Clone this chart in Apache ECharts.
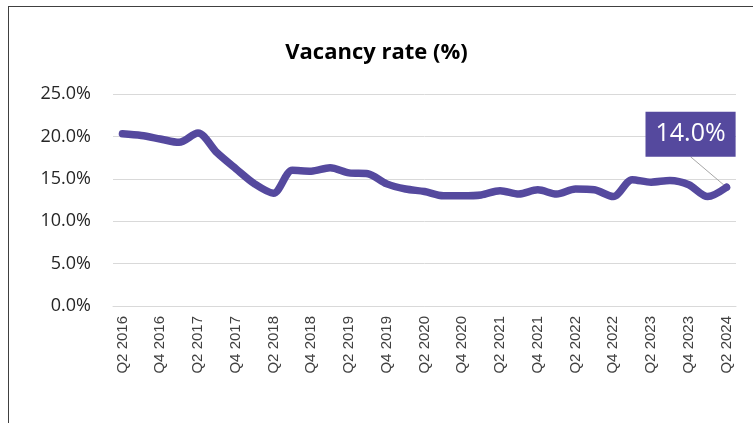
<!DOCTYPE html>
<html>
<head>
<meta charset="utf-8">
<script src="https://cdn.jsdelivr.net/npm/echarts@6/dist/echarts.min.js"></script>
<style>
html,body{margin:0;padding:0;background:#fff;}
#chart{position:absolute;left:0;top:0;width:753px;height:423px;}
#frame{position:absolute;left:8px;top:6px;width:800px;height:500px;border:1px solid #404040;box-sizing:border-box;pointer-events:none;}
</style>
</head>
<body>
<div id="chart"></div>
<div id="frame"></div>
<script>
var quarters = [
  'Q2 2016','Q3 2016','Q4 2016','Q1 2017','Q2 2017','Q3 2017','Q4 2017','Q1 2018',
  'Q2 2018','Q3 2018','Q4 2018','Q1 2019','Q2 2019','Q3 2019','Q4 2019','Q1 2020',
  'Q2 2020','Q3 2020','Q4 2020','Q1 2021','Q2 2021','Q3 2021','Q4 2021','Q1 2022',
  'Q2 2022','Q3 2022','Q4 2022','Q1 2023','Q2 2023','Q3 2023','Q4 2023','Q1 2024',
  'Q2 2024'
];
var vacancyRate = [
  20.3, 20.1, 19.7, 19.3, 20.4, 18.1, 16.2, 14.4,
  13.3, 16.0, 15.9, 16.3, 15.7, 15.6, 14.4, 13.8,
  13.5, 13.0, 13.0, 13.1, 13.6, 13.2, 13.7, 13.2,
  13.8, 13.7, 12.9, 14.9, 14.6, 14.8, 14.3, 12.9,
  14.0
];
var yTicks = {min: 0, max: 25, interval: 5};
var titleText = 'Vacancy rate (%)';

var chart = echarts.init(document.getElementById('chart'), null, {renderer: 'canvas'});
var lastIdx = vacancyRate.length - 1;
var seriesData = vacancyRate.map(function (v, i) {
  if (i === lastIdx) {
    return {
      value: v,
      symbolSize: 7,
      label: {
        show: true,
        position: 'top',
        formatter: function (p) { return p.value.toFixed(1) + '%'; },
        backgroundColor: '#55499E',
        color: '#ffffff',
        fontFamily: 'Open Sans',
        fontSize: 25,
        padding: [7, 10, 7, 10],
        lineHeight: 31
      },
      labelLine: {show: true, lineStyle: {color: '#a6a6a6', width: 1}}
    };
  }
  return v;
});

chart.setOption({
  animation: false,
  title: {
    text: titleText,
    left: 'center',
    top: 37,
    textStyle: {fontFamily: 'Open Sans', fontWeight: 'bold', fontSize: 22, color: '#000'}
  },
  grid: {left: 113, right: 17, top: 94, bottom: 117},
  xAxis: {
    type: 'category',
    data: quarters,
    boundaryGap: true,
    axisLine: {lineStyle: {color: '#d9d9d9', width: 1}},
    axisTick: {show: false},
    axisLabel: {
      interval: 1,
      rotate: 90,
      margin: 10,
      color: '#404040',
      fontFamily: 'Liberation Sans',
      fontSize: 15
    }
  },
  yAxis: {
    type: 'value',
    min: yTicks.min,
    max: yTicks.max,
    interval: yTicks.interval,
    axisLine: {show: false},
    axisTick: {show: false},
    splitLine: {lineStyle: {color: '#d9d9d9', width: 1}},
    axisLabel: {
      margin: 22,
      color: '#262626',
      fontFamily: 'Open Sans',
      fontSize: 18,
      formatter: function (v) { return v.toFixed(1) + '%'; }
    }
  },
  series: [{
    type: 'line',
    data: seriesData,
    smooth: 0.3,
    symbol: 'circle',
    symbolSize: 0,
    showSymbol: true,
    lineStyle: {color: '#55499E', width: 7.5, cap: 'round', join: 'round'},
    itemStyle: {color: '#55499E'},
    labelLayout: function (params) {
      if (params.dataIndex === lastIdx) {
        return {dx: -36, dy: -22};
      }
      return {};
    }
  }]
});
</script>
</body>
</html>
